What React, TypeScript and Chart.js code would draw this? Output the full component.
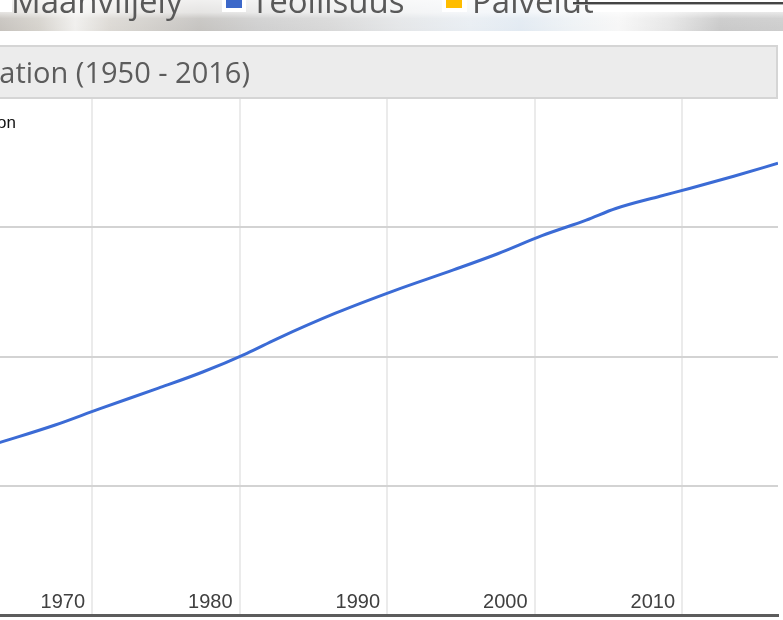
import React, { useEffect, useRef } from "react";
import { Chart, registerables } from "chart.js";

Chart.register(...registerables);

// ---- Data ----
const YEARS = [1960, 1963, 1967, 1970, 1974, 1977, 1980, 1982, 1986, 1990, 1994, 1997, 2000, 2003, 2005, 2008, 2010, 2013, 2016];
const POPULATION_BILLIONS = [2.43, 2.65, 2.94, 3.19, 3.51, 3.76, 4.05, 4.27, 4.67, 5.02, 5.34, 5.59, 5.87, 6.11, 6.29, 6.48, 6.6, 6.79, 6.99];
const MID_YEAR = 0.5; // population figures are mid-year estimates
const X_TICK_LABELS = [1970, 1980, 1990, 2000, 2010];
const Y_MIN = 0;
const Y_MAX = 8;
const Y_STEP = 2;
const X_MIN = 1950;
const X_MAX = 2016.5;
const X_STEP = 10;
const Y_AXIS_TITLE = "Population";
const CHART_TITLE = "World Population (1950 - 2016)";
const LEGEND_LABELS = ["Maanviljely", "Teollisuus", "Palvelut"];

const insideLabels = {
  id: "insideLabels",
  afterDraw(chart: any) {
    const { ctx, chartArea, scales } = chart;
    const xs = scales.x;
    const ys = scales.y;
    ctx.save();
    ctx.font = '20px "Liberation Sans", Arial, sans-serif';
    ctx.fillStyle = "#404040";
    ctx.textAlign = "right";
    ctx.textBaseline = "alphabetic";
    X_TICK_LABELS.forEach((v) => {
      ctx.fillText(String(v), xs.getPixelForValue(v) - 7, chartArea.bottom - 7);
    });
    ctx.font = '17px "Liberation Sans", Arial, sans-serif';
    ctx.fillStyle = "#111";
    ctx.fillText(Y_AXIS_TITLE, chartArea.left + 219, ys.getPixelForValue(Y_MAX) + 30);
    ctx.restore();
  },
};

function PopulationChart() {
  const ref = useRef<HTMLCanvasElement | null>(null);
  useEffect(() => {
    if (!ref.current) return;
    const chart = new Chart(ref.current, {
      type: "line",
      data: {
        datasets: [
          {
            data: YEARS.map((y, i) => ({ x: y + MID_YEAR, y: POPULATION_BILLIONS[i] })),
            borderColor: "#3b6bd5",
            borderWidth: 3,
            pointRadius: 0,
            cubicInterpolationMode: "monotone",
            fill: false,
          },
        ],
      },
      options: {
        responsive: false,
        animation: false,
        layout: { padding: { top: 2, right: 2, bottom: 3, left: 0 } },
        plugins: {
          legend: { display: false },
          tooltip: { enabled: false },
          title: { display: false },
        },
        scales: {
          x: {
            type: "linear",
            min: X_MIN,
            max: X_MAX,
            ticks: { display: false, stepSize: X_STEP, includeBounds: false },
            grid: { color: "#ebebeb", lineWidth: 2, drawTicks: false },
            border: { display: true, color: "#5c5c5c", width: 3 },
          },
          y: {
            type: "linear",
            min: Y_MIN,
            max: Y_MAX,
            ticks: { display: false, stepSize: Y_STEP },
            grid: {
              color: (c: any) => (c.tick && c.tick.value === Y_MIN ? "rgba(0,0,0,0)" : "#d3d3d3"),
              lineWidth: 2,
              drawTicks: false,
            },
            border: { display: false },
          },
        },
      },
      plugins: [insideLabels],
    } as any);
    return () => chart.destroy();
  }, []);
  return (
    <div style={{ position: "absolute", left: 0, top: 96, width: 780, height: 524, overflow: "hidden" }}>
      <canvas
        ref={ref}
        width={983}
        height={522}
        style={{ position: "absolute", left: -203, top: 0, width: 983, height: 522 }}
      />
    </div>
  );
}

function Banner() {
  return (
    <svg width={783} height={100} style={{ position: "absolute", left: 0, top: 0 }}>
      <defs>
        <linearGradient id="band" x1="0" x2="1" y1="0" y2="0">
          <stop offset="0" stopColor="#c6c2bd" />
          <stop offset="0.05" stopColor="#d5d2cc" />
          <stop offset="0.096" stopColor="#f0efed" />
          <stop offset="0.14" stopColor="#dcd9d4" />
          <stop offset="0.255" stopColor="#c5c3c0" />
          <stop offset="0.33" stopColor="#cfcfcf" />
          <stop offset="0.42" stopColor="#d8d8d8" />
          <stop offset="0.51" stopColor="#e4e6e8" />
          <stop offset="0.6" stopColor="#e9eef3" />
          <stop offset="0.665" stopColor="#e2eaf2" />
          <stop offset="0.73" stopColor="#eef2f5" />
          <stop offset="0.79" stopColor="#f7f7f7" />
          <stop offset="0.855" stopColor="#e6e6e6" />
          <stop offset="0.92" stopColor="#c9c9c9" />
          <stop offset="1" stopColor="#cdcdcd" />
        </linearGradient>
        <linearGradient id="fade" x1="0" x2="0" y1="0" y2="1">
          <stop offset="0" stopColor="#ffffff" stopOpacity="0.75" />
          <stop offset="0.4" stopColor="#ffffff" stopOpacity="0.55" />
          <stop offset="0.6" stopColor="#ffffff" stopOpacity="0.1" />
          <stop offset="1" stopColor="#ffffff" stopOpacity="0" />
        </linearGradient>
      </defs>
      <rect x={0} y={0} width={783} height={31} fill="url(#band)" />
      <rect x={0} y={0} width={783} height={31} fill="url(#fade)" />
      <rect x={590} y={0} width={193} height={12} fill="#ffffff" />
      <rect x={0} y={0} width={12} height={12} fill="#ffffff" />
      <rect x={222} y={-4} width={24} height={16} fill="#ffffff" />
      <rect x={226} y={-4} width={16} height={12} fill="#3c68c9" />
      <rect x={442} y={-4} width={25} height={16} fill="#ffffff" />
      <rect x={446} y={-4} width={16} height={12} fill="#ffbd00" />
      <g fontFamily='"Open Sans", sans-serif' fontSize={33} fill="#595959">
        <text x={11} y={13}>{LEGEND_LABELS[0]}</text>
        <text x={251} y={13}>{LEGEND_LABELS[1]}</text>
        <text x={472} y={13}>{LEGEND_LABELS[2]}</text>
      </g>
      <rect x={573} y={2} width={210} height={2} fill="#444444" />
      <rect x={573} y={4} width={210} height={1} fill="#b0b0b0" />
      <rect x={-10} y={46} width={787} height={52} fill="#ececec" stroke="#d5d5d5" strokeWidth={2} />
      <text
        x={250}
        y={83}
        textAnchor="end"
        fontFamily='"Open Sans", sans-serif'
        fontSize={29}
        fill="#5c5c5c"
      >
        {CHART_TITLE}
      </text>
    </svg>
  );
}

export default function App() {
  return (
    <div
      style={{
        position: "fixed",
        left: 0,
        top: 0,
        width: 783,
        height: 620,
        overflow: "hidden",
        background: "#ffffff",
      }}
    >
      <PopulationChart />
      <Banner />
    </div>
  );
}
